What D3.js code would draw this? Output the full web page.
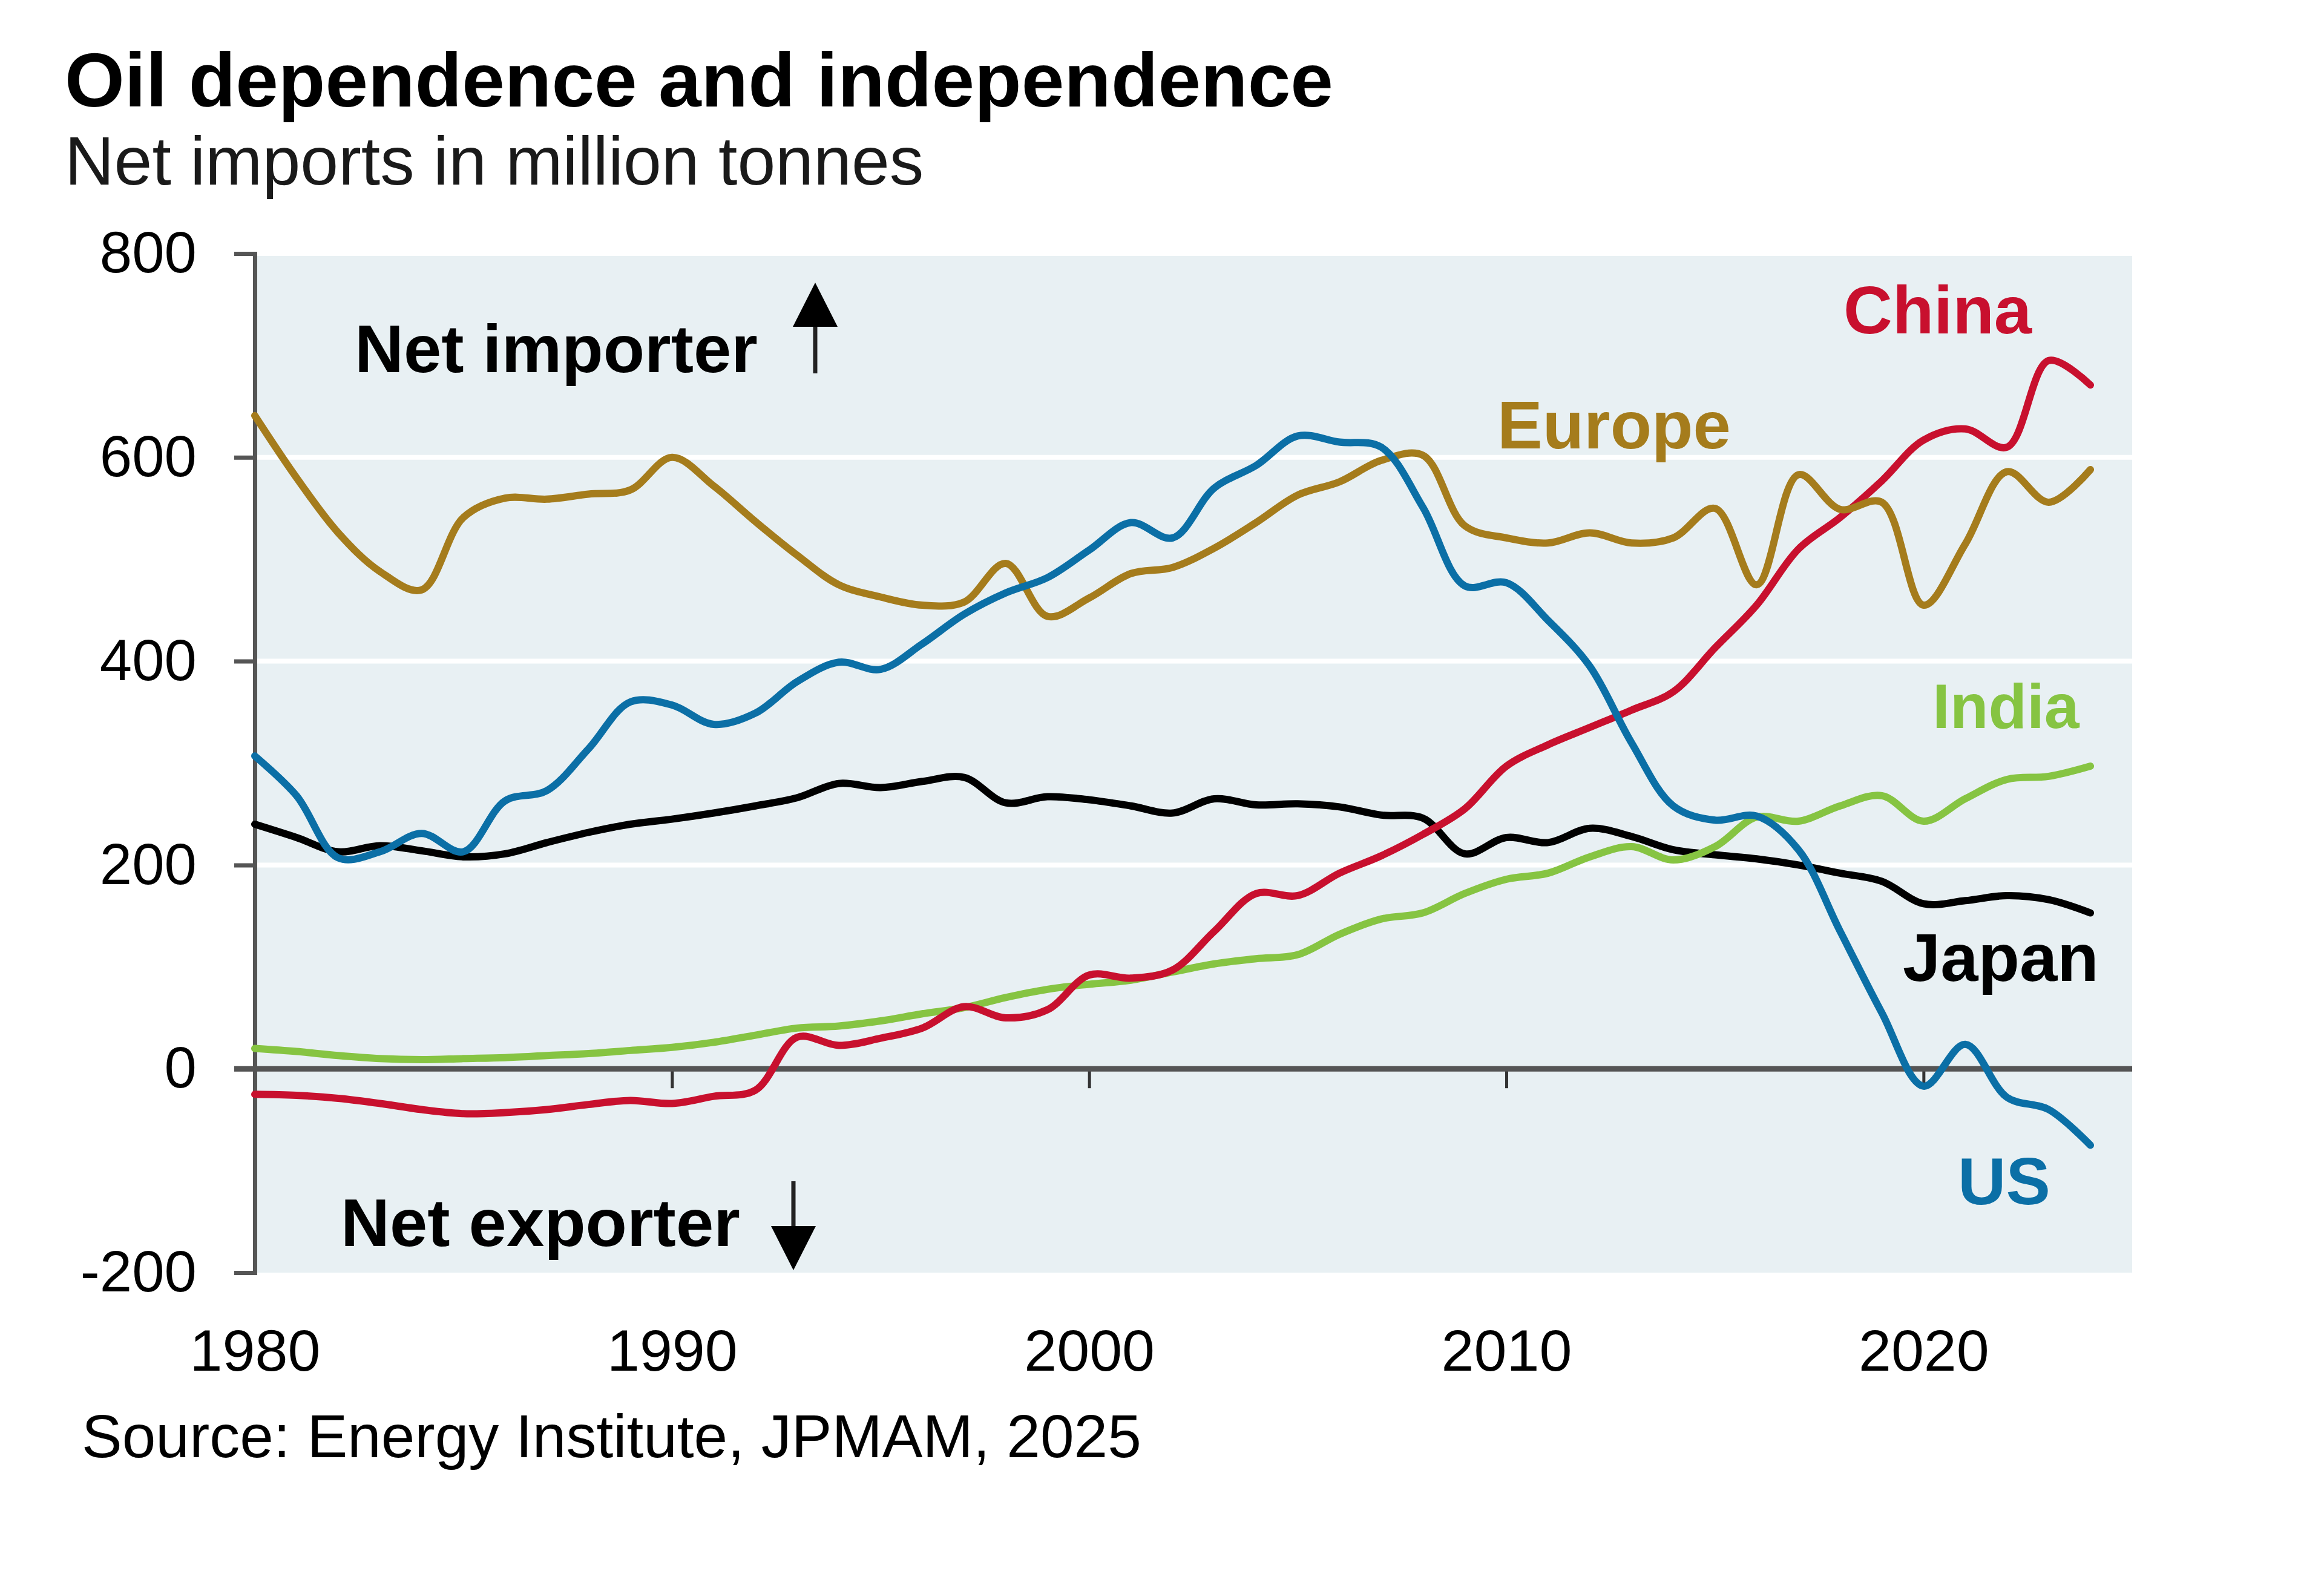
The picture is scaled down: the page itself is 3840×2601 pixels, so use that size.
<!DOCTYPE html>
<html lang="en">
<head>
<meta charset="utf-8">
<script src="https://d3js.org/d3.v7.min.js"></script>
<style>
  body { margin: 0; background: #fff; }
  text { font-family: "Liberation Sans", Arial, sans-serif; }
</style>
</head>
<body>
<div id="my_dataviz"></div>
<script>
var years = [1980,1981,1982,1983,1984,1985,1986,1987,1988,1989,
             1990,1991,1992,1993,1994,1995,1996,1997,1998,1999,
             2000,2001,2002,2003,2004,2005,2006,2007,2008,2009,
             2010,2011,2012,2013,2014,2015,2016,2017,2018,2019,
             2020,2021,2022,2023,2024];

var europe = [641,580,526,488,470,541,560,559,564,568,
              600,572,537,504,475,463,455,458,496,444,
              462,486,492,511,536,563,576,597,602,533,
              521,516,526,516,521,550,475,583,549,556,
              455,515,586,556,588];

var us = [307,268,207,213,231,213,263,273,314,360,
          357,338,349,380,399,392,417,446,467,482,
          509,536,521,570,592,621,615,610,551,474,
          477,440,395,320,258,244,248,215,135,55,
          -17,24,-28,-40,-75];

var china = [-25,-26,-29,-34,-40,-44,-43,-40,-35,-31,
             -34,-27,-21,31,23,30,40,61,50,58,
             92,89,97,135,172,170,192,209,230,255,
             297,318,335,352,370,413,455,510,541,577,
             617,628,610,695,671];

var india = [20,17,13,10,9,10,11,13,15,18,
             21,26,33,40,42,47,54,60,70,78,
             83,87,95,103,108,112,132,147,153,172,
             186,192,208,218,205,218,247,243,258,268,
             243,265,284,287,297];

var japan = [240,227,213,219,214,208,211,222,232,240,
             245,251,258,266,280,276,282,286,261,267,
             264,258,251,265,259,260,257,249,246,211,
             227,222,236,228,215,210,206,200,192,184,
             162,165,170,166,153];

var yTicks = [-200, 0, 200, 400, 600, 800];
var xTicks = [1980, 1990, 2000, 2010, 2020];

var series = [
  {name: "Japan",  values: japan,  color: "#000000"},
  {name: "India",  values: india,  color: "#86c442"},
  {name: "China",  values: china,  color: "#c8102e"},
  {name: "Europe", values: europe, color: "#a57c1c"},
  {name: "US",     values: us,     color: "#0b6fa6"}
];

var width = 3840, height = 2601;

var svg = d3.select("#my_dataviz")
  .append("svg")
    .attr("width", width)
    .attr("height", height);

var x = d3.scaleLinear().domain([1980, 2025]).range([421, 3523]);
var y = d3.scaleLinear().domain([-200, 800]).range([2103, 419]);

// plot background + white gridlines
svg.append("rect")
    .attr("x", x(1980))
    .attr("y", y(800))
    .attr("width", x(2025) - x(1980))
    .attr("height", y(-200) - y(800))
    .attr("fill", "#e8f0f3");

svg.selectAll(".grid")
  .data(yTicks.filter(function(d) { return d > 0; }))
  .enter()
  .append("line")
    .attr("x1", x(1980))
    .attr("x2", x(2025))
    .attr("y1", function(d) { return y(d); })
    .attr("y2", function(d) { return y(d); })
    .attr("stroke", "#ffffff")
    .attr("stroke-width", 8);

// y axis
var yAxis = svg.append("g")
    .attr("transform", "translate(" + x(1980) + ",0)")
    .call(d3.axisLeft(y).tickValues(yTicks).tickSize(34).tickSizeOuter(34).tickPadding(62)
      .tickFormat(function(d) { return String(d); }));
yAxis.selectAll("path, line").attr("stroke", "#555").attr("stroke-width", 7);
yAxis.selectAll("text")
    .style("font-size", "96px")
    .attr("fill", "#000");

// zero line with small year ticks
var xAxis = svg.append("g")
    .attr("transform", "translate(0," + y(0) + ")")
    .call(d3.axisBottom(x).tickValues(xTicks.slice(1)).tickSize(32).tickSizeOuter(0).tickFormat(""));
xAxis.select(".domain").remove();
xAxis.selectAll("line").attr("stroke", "#333").attr("stroke-width", 5);

svg.append("line")
    .attr("x1", x(1980) - 34)
    .attr("x2", x(2025))
    .attr("y1", y(0))
    .attr("y2", y(0))
    .attr("stroke", "#555")
    .attr("stroke-width", 9);

// year labels below the plot
var xLabels = svg.append("g")
    .attr("transform", "translate(0," + 2195 + ")")
    .call(d3.axisBottom(x).tickValues(xTicks).tickSize(0).tickPadding(0).tickFormat(d3.format("d")));
xLabels.select(".domain").remove();
xLabels.selectAll("text")
    .style("font-size", "97px")
    .attr("fill", "#000")
    .attr("dy", "0.72em");

// series lines
var line = d3.line()
    .x(function(d, i) { return x(years[i]); })
    .y(function(d) { return y(d); })
    .curve(d3.curveCatmullRom.alpha(0.5));

svg.selectAll(".series")
  .data(series)
  .enter()
  .append("path")
    .attr("d", function(d) { return line(d.values); })
    .attr("fill", "none")
    .attr("stroke", function(d) { return d.color; })
    .attr("stroke-width", 12)
    .attr("stroke-linejoin", "round")
    .attr("stroke-linecap", "round");

// series labels
var labels = [
  {text: "China",  x: 3046, y: 551,  size: 112, color: "#c8102e"},
  {text: "Europe", x: 2474, y: 741,  size: 112, color: "#a57c1c"},
  {text: "India",  x: 3193, y: 1203, size: 104, color: "#86c442"},
  {text: "Japan",  x: 3144, y: 1621, size: 112, color: "#000000"},
  {text: "US",     x: 3235, y: 1990, size: 110, color: "#0b6fa6"}
];
svg.selectAll(".lab")
  .data(labels)
  .enter()
  .append("text")
    .attr("x", function(d) { return d.x; })
    .attr("y", function(d) { return d.y; })
    .text(function(d) { return d.text; })
    .style("font-size", function(d) { return d.size + "px"; })
    .style("font-weight", "bold")
    .attr("fill", function(d) { return d.color; });

// net importer / exporter notes with arrows
svg.append("text")
    .attr("x", 586).attr("y", 615)
    .text("Net importer")
    .style("font-size", "112px").style("font-weight", "bold");
svg.append("line")
    .attr("x1", 1347).attr("x2", 1347).attr("y1", 530).attr("y2", 617)
    .attr("stroke", "#222").attr("stroke-width", 7);
svg.append("path")
    .attr("d", "M1347,467 L1384,540 L1310,540 Z")
    .attr("fill", "#000");

svg.append("text")
    .attr("x", 563).attr("y", 2059)
    .text("Net exporter")
    .style("font-size", "112px").style("font-weight", "bold");
svg.append("line")
    .attr("x1", 1311).attr("x2", 1311).attr("y1", 1952).attr("y2", 2040)
    .attr("stroke", "#222").attr("stroke-width", 7);
svg.append("path")
    .attr("d", "M1311,2099 L1348,2026 L1274,2026 Z")
    .attr("fill", "#000");

// titles and source
svg.append("text")
    .attr("x", 107).attr("y", 176)
    .text("Oil dependence and independence")
    .style("font-size", "127px").style("font-weight", "bold")
    .attr("fill", "#000");
svg.append("text")
    .attr("x", 107).attr("y", 305)
    .text("Net imports in million tonnes")
    .style("font-size", "113px")
    .attr("fill", "#1a1a1a");
svg.append("text")
    .attr("x", 135).attr("y", 2408)
    .text("Source: Energy Institute, JPMAM, 2025")
    .style("font-size", "100px")
    .attr("fill", "#000");
</script>
</body>
</html>
